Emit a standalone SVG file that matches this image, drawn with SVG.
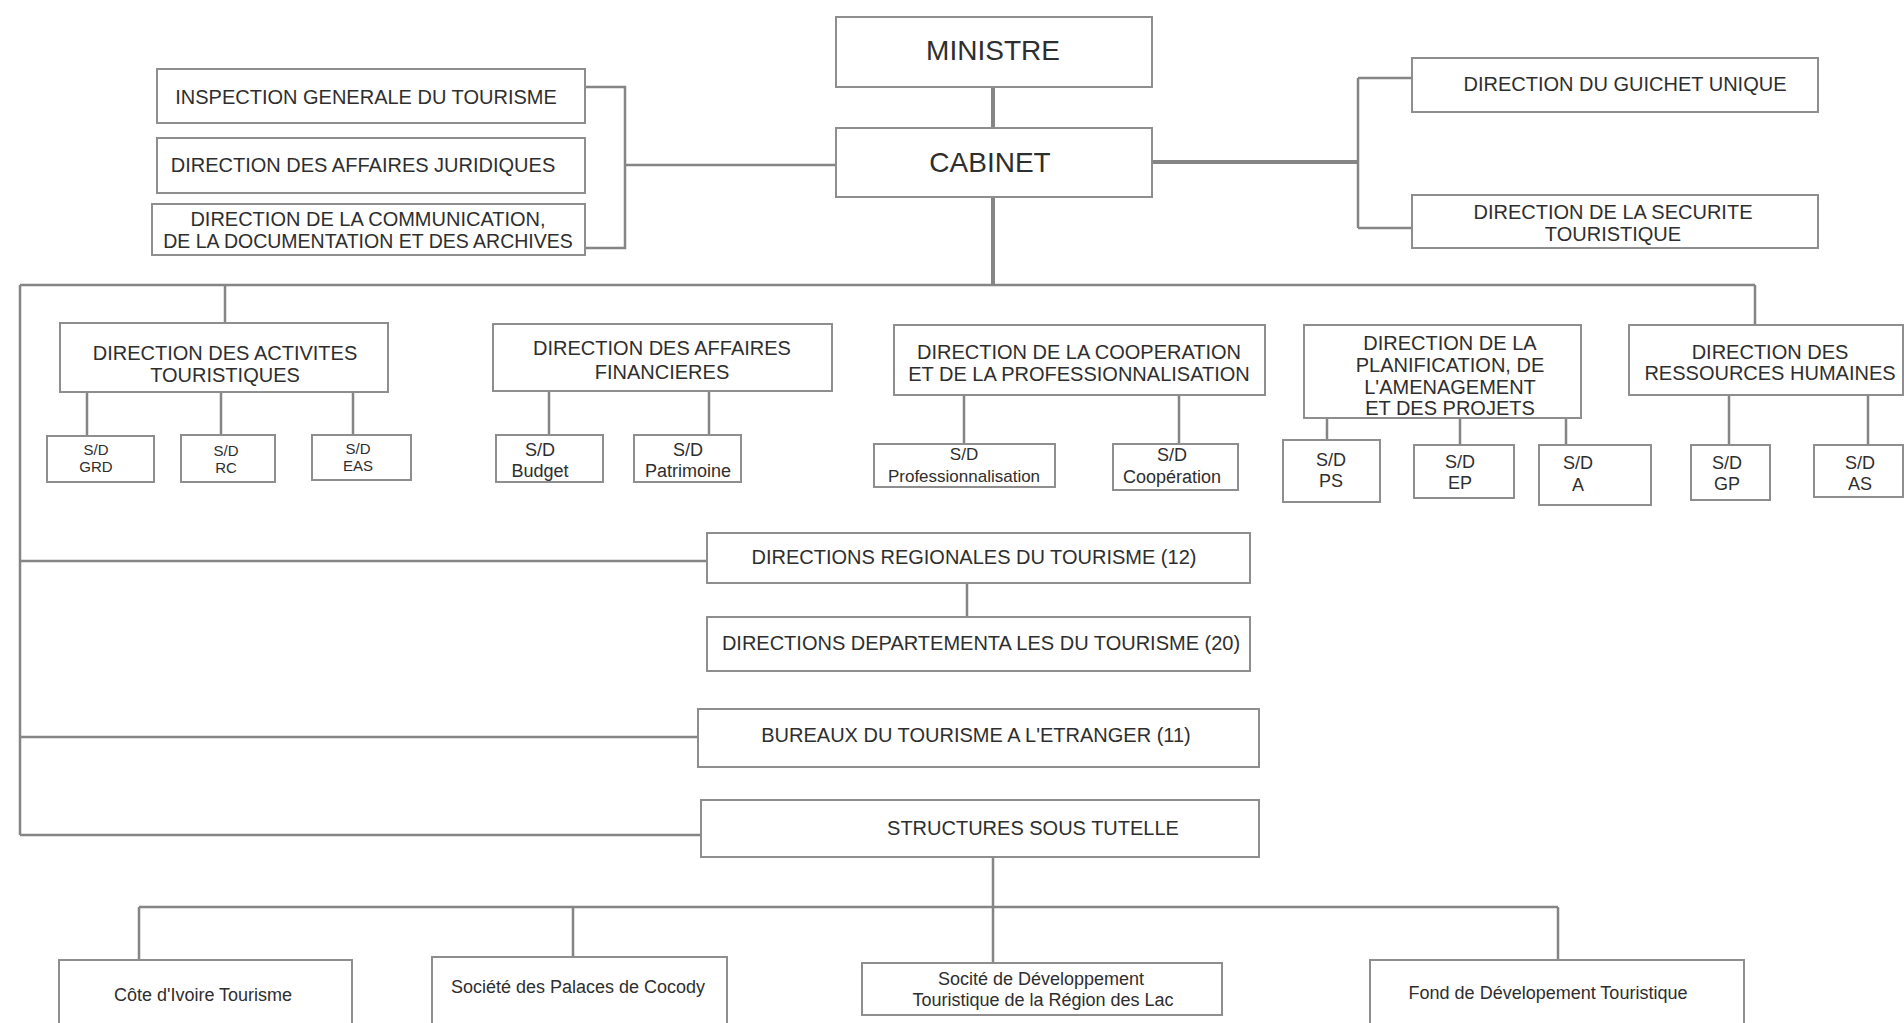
<svg xmlns="http://www.w3.org/2000/svg" width="1904" height="1023" viewBox="0 0 1904 1023">
<style>
.box{fill:#ffffff;stroke:#8e8e8e;stroke-width:2}
.t{font-family:"Liberation Sans",Arial,sans-serif;font-size:20px;fill:#2e2e2e;text-anchor:middle;dominant-baseline:central}
.big{font-size:28px}
.sm{font-size:15px}
.pr{font-size:17px}
.mx{font-size:18px}
.ln{stroke:#858585;stroke-width:2.5;fill:none}
.th{stroke-width:4}
</style>
<rect width="1904" height="1023" fill="#ffffff"/>
<g id="connectors">
<path class="ln th" d="M993,87V128"/>
<path class="ln th" d="M993,197V285"/>
<path class="ln" d="M20,285H1755"/>
<path class="ln" d="M225,285V323M1755,285V325"/>
<path class="ln" d="M20,285V835M20,561H707M20,737H698M20,835H701"/>
<path class="ln th" d="M1152,162H1358"/>
<path class="ln" d="M1358,78V228M1358,78H1412M1358,228H1412"/>
<path class="ln" d="M585,87H625V248H585M625,165H836"/>
<path class="ln" d="M87,392V436M221,392V435M353,392V435"/>
<path class="ln" d="M549,391V435M709,391V435"/>
<path class="ln" d="M964,395V444M1179,395V444"/>
<path class="ln" d="M1327,418V440M1460,418V445M1566,418V445"/>
<path class="ln" d="M1729,395V445M1868,395V445"/>
<path class="ln" d="M967,583V617"/>
<path class="ln" d="M993,857V963M139,907H1558M139,907V960M573,907V957M1558,907V960"/>
</g>
<g id="ministre"><rect class="box" x="836" y="17" width="316" height="70"/><text class="t big" x="993" y="50">MINISTRE</text></g>
<g id="cabinet"><rect class="box" x="836" y="128" width="316" height="69"/><text class="t big" x="990" y="162">CABINET</text></g>
<g id="igt"><rect class="box" x="157" y="69" width="428" height="54"/><text class="t" x="366" y="97">INSPECTION GENERALE DU TOURISME</text></g>
<g id="daj"><rect class="box" x="157" y="138" width="428" height="55"/><text class="t" x="363" y="165">DIRECTION DES AFFAIRES JURIDIQUES</text></g>
<g id="dcda"><rect class="box" x="152" y="204" width="433" height="51"/><text class="t" x="368" y="219">DIRECTION DE LA COMMUNICATION,</text><text class="t" x="368" y="241" style="font-size:19.5px">DE LA DOCUMENTATION ET DES ARCHIVES</text></g>
<g id="dgu"><rect class="box" x="1412" y="58" width="406" height="54"/><text class="t" x="1625" y="84">DIRECTION DU GUICHET UNIQUE</text></g>
<g id="dst"><rect class="box" x="1412" y="195" width="406" height="53"/><text class="t" x="1613" y="212">DIRECTION DE LA SECURITE</text><text class="t" x="1613" y="234">TOURISTIQUE</text></g>
<g id="dat"><rect class="box" x="60" y="323" width="328" height="69"/><text class="t" x="225" y="353">DIRECTION DES ACTIVITES</text><text class="t" x="225" y="375">TOURISTIQUES</text></g>
<g id="sd-grd"><rect class="box" x="47" y="436" width="107" height="46"/><text class="t sm" x="96" y="449">S/D</text><text class="t sm" x="96" y="466">GRD</text></g>
<g id="sd-rc"><rect class="box" x="181" y="435" width="94" height="47"/><text class="t sm" x="226" y="450">S/D</text><text class="t sm" x="226" y="467">RC</text></g>
<g id="sd-eas"><rect class="box" x="312" y="435" width="99" height="45"/><text class="t sm" x="358" y="448">S/D</text><text class="t sm" x="358" y="465">EAS</text></g>
<g id="daf"><rect class="box" x="493" y="324" width="339" height="67"/><text class="t" x="662" y="348">DIRECTION DES AFFAIRES</text><text class="t" x="662" y="372">FINANCIERES</text></g>
<g id="sd-budget"><rect class="box" x="496" y="435" width="107" height="47"/><text class="t mx" x="540" y="450">S/D</text><text class="t mx" x="540" y="471">Budget</text></g>
<g id="sd-patrimoine"><rect class="box" x="634" y="435" width="107" height="47"/><text class="t mx" x="688" y="450">S/D</text><text class="t mx" x="688" y="471">Patrimoine</text></g>
<g id="dcp"><rect class="box" x="894" y="325" width="371" height="70"/><text class="t" x="1079" y="352">DIRECTION DE LA COOPERATION</text><text class="t" x="1079" y="374">ET DE LA PROFESSIONNALISATION</text></g>
<g id="sd-prof"><rect class="box" x="874" y="444" width="181" height="43"/><text class="t pr" x="964" y="454">S/D</text><text class="t pr" x="964" y="476">Professionnalisation</text></g>
<g id="sd-coop"><rect class="box" x="1113" y="444" width="125" height="46"/><text class="t mx" x="1172" y="455">S/D</text><text class="t mx" x="1172" y="477">Coopération</text></g>
<g id="dpap"><rect class="box" x="1304" y="325" width="277" height="93"/><text class="t" x="1450" y="343">DIRECTION DE LA</text><text class="t" x="1450" y="365">PLANIFICATION, DE</text><text class="t" x="1450" y="387">L'AMENAGEMENT</text><text class="t" x="1450" y="408">ET DES PROJETS</text></g>
<g id="sd-ps"><rect class="box" x="1283" y="440" width="97" height="62"/><text class="t mx" x="1331" y="460">S/D</text><text class="t mx" x="1331" y="481">PS</text></g>
<g id="sd-ep"><rect class="box" x="1414" y="445" width="100" height="53"/><text class="t mx" x="1460" y="462">S/D</text><text class="t mx" x="1460" y="483">EP</text></g>
<g id="sd-a"><rect class="box" x="1539" y="445" width="112" height="60"/><text class="t mx" x="1578" y="463">S/D</text><text class="t mx" x="1578" y="485">A</text></g>
<g id="drh"><rect class="box" x="1629" y="325" width="274" height="70"/><text class="t" x="1770" y="352">DIRECTION DES</text><text class="t" x="1770" y="373">RESSOURCES HUMAINES</text></g>
<g id="sd-gp"><rect class="box" x="1691" y="445" width="79" height="55"/><text class="t mx" x="1727" y="463">S/D</text><text class="t mx" x="1727" y="484">GP</text></g>
<g id="sd-as"><rect class="box" x="1814" y="445" width="89" height="52"/><text class="t mx" x="1860" y="463">S/D</text><text class="t mx" x="1860" y="484">AS</text></g>
<g id="drt"><rect class="box" x="707" y="533" width="543" height="50"/><text class="t" x="974" y="557">DIRECTIONS REGIONALES DU TOURISME (12)</text></g>
<g id="ddt"><rect class="box" x="707" y="617" width="543" height="54"/><text class="t" x="981" y="643">DIRECTIONS DEPARTEMENTA LES DU TOURISME (20)</text></g>
<g id="bte"><rect class="box" x="698" y="709" width="561" height="58"/><text class="t" x="976" y="735">BUREAUX DU TOURISME A L'ETRANGER (11)</text></g>
<g id="sst"><rect class="box" x="701" y="800" width="558" height="57"/><text class="t" x="1033" y="828">STRUCTURES SOUS TUTELLE</text></g>
<g id="cit"><rect class="box" x="59" y="960" width="293" height="72"/><text class="t mx" x="203" y="995">Côte d'Ivoire Tourisme</text></g>
<g id="spc"><rect class="box" x="432" y="957" width="295" height="72"/><text class="t mx" x="578" y="987">Société des Palaces de Cocody</text></g>
<g id="sdtrl"><rect class="box" x="862" y="963" width="360" height="52"/><text class="t mx" x="1041" y="979">Socité de Développement</text><text class="t mx" x="1043" y="1000">Touristique de la Région des Lac</text></g>
<g id="fdt"><rect class="box" x="1370" y="960" width="374" height="72"/><text class="t mx" x="1548" y="993">Fond de Dévelopement Touristique</text></g>
</svg>
